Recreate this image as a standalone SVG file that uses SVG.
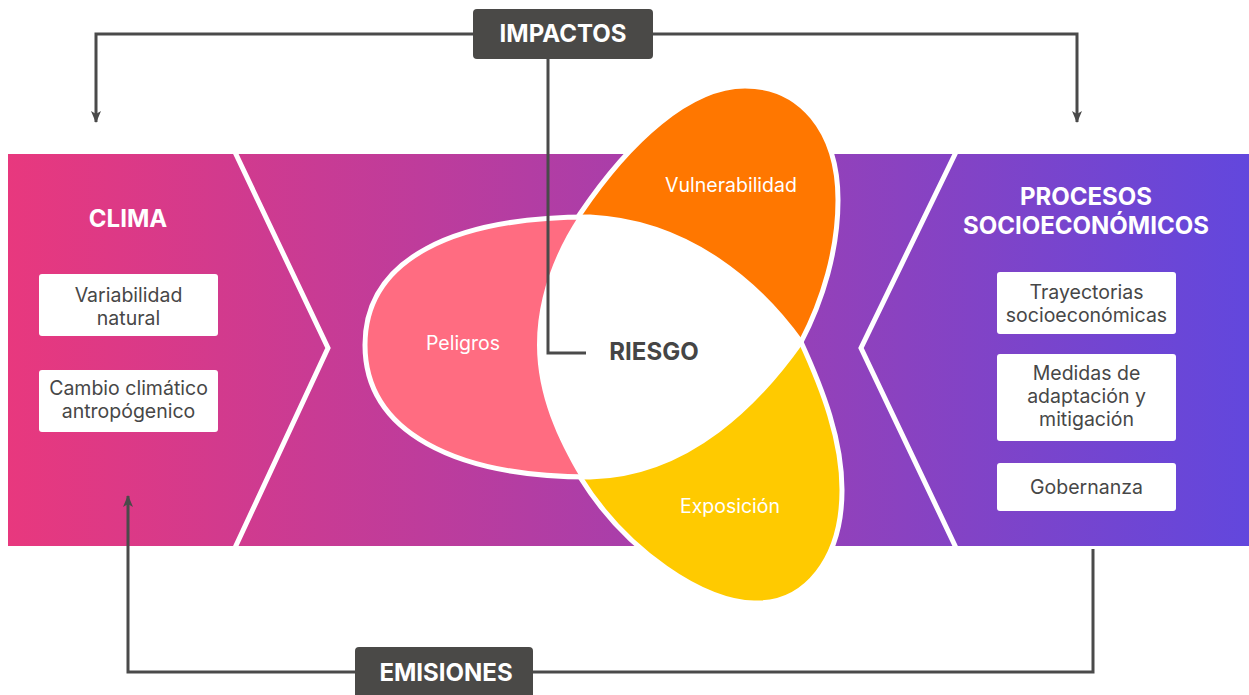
<svg xmlns="http://www.w3.org/2000/svg" width="1249" height="695" viewBox="0 0 1249 695">
<defs>
<linearGradient id="bandGrad" x1="8" y1="0" x2="1249" y2="0" gradientUnits="userSpaceOnUse">
<stop offset="0" stop-color="#E8387E"/>
<stop offset="0.5" stop-color="#A93EAA"/>
<stop offset="1" stop-color="#6247DD"/>
</linearGradient>
<clipPath id="pinkClip">
<path d="M801,342 C760,285 690,222 590,217 C455,217 365,258 365,345 C365,432 455,477 590,477 C690,475 760,400 801,342 Z"/>
</clipPath>
<marker id="arrow" viewBox="0 0 12 12" refX="11" refY="6" markerWidth="12" markerHeight="12" markerUnits="userSpaceOnUse" orient="auto">
<path d="M0,1 L12,6 L0,11 L3,6 Z" fill="#4A4A4A"/>
</marker>
<style>
.petal{stroke:#fff;stroke-width:5;stroke-linejoin:round}
.box{fill:#fff}
.dark{fill:#4A4947}
.t{font-family:Inter,"Noto Sans","Liberation Sans",sans-serif;text-anchor:middle}
.title{font-size:24px;font-weight:700;fill:#fff}
.item{font-size:19.5px;fill:#474747}
.plabel{font-size:19.5px;fill:#fff}
.conn{fill:none;stroke:#4A4A4A;stroke-width:3}
.chev{fill:none;stroke:#fff;stroke-width:5}
</style>
</defs>
<rect width="1249" height="695" fill="#fff"/>
<g id="band">
<rect x="8" y="154" width="1241" height="392" fill="url(#bandGrad)"/>
<polyline class="chev" points="233,148 328,348 233,552"/>
<polyline class="chev" points="958,148 861,348 958,552"/>
</g>
<g id="clima">
<text class="t title" x="128" y="227">CLIMA</text>
</g>
<g id="variabilidad">
<rect class="box" x="39" y="274" width="179" height="62" rx="3"/>
<text class="t item" x="128.5" y="302">Variabilidad</text>
<text class="t item" x="128.5" y="325">natural</text>
</g>
<g id="cambio">
<rect class="box" x="39" y="370" width="179" height="62" rx="3"/>
<text class="t item" x="128.5" y="395">Cambio climático</text>
<text class="t item" x="128.5" y="418">antropógenico</text>
</g>
<g id="procesos">
<text class="t title" x="1086" y="205">PROCESOS</text>
<text class="t title" x="1086" y="234">SOCIOECONÓMICOS</text>
</g>
<g id="trayectorias">
<rect class="box" x="997" y="272" width="179" height="62" rx="3"/>
<text class="t item" x="1086.5" y="299">Trayectorias</text>
<text class="t item" x="1086.5" y="322">socioeconómicas</text>
</g>
<g id="medidas">
<rect class="box" x="997" y="354" width="179" height="87" rx="3"/>
<text class="t item" x="1086.5" y="380">Medidas de</text>
<text class="t item" x="1086.5" y="403">adaptación y</text>
<text class="t item" x="1086.5" y="426">mitigación</text>
</g>
<g id="gobernanza">
<rect class="box" x="997" y="463" width="179" height="48" rx="3"/>
<text class="t item" x="1086.5" y="494">Gobernanza</text>
</g>
<g id="vulnerabilidad">
<path class="petal" fill="#FF7700" d="M801,342 C823,300 838,250 838,200 C838,130 800,86 745,86 C690,86 630,140 580,214 C556,250 537,295 537,345 Z"/>
<text class="t plabel" x="731" y="192">Vulnerabilidad</text>
</g>
<g id="exposicion">
<path class="petal" fill="#FFCA00" d="M801,342 C823,390 842,440 842,490 C842,560 805,603 757,603 C705,605 625,550 580,477 C558,440 537,395 537,345 Z"/>
<text class="t plabel" x="730" y="513">Exposición</text>
</g>
<g id="peligros">
<path class="petal" fill="#FF6C81" d="M801,342 C760,285 690,222 590,217 C455,217 365,258 365,345 C365,432 455,477 590,477 C690,475 760,400 801,342 Z"/>
<text class="t plabel" x="463" y="350">Peligros</text>
</g>
<g id="riesgo">
<path fill="#fff" clip-path="url(#pinkClip)" d="M600,150 L580,214 C556,250 537,295 537,345 C537,395 558,440 580,477 L600,560 L830,560 L830,150 Z"/>
<text class="t" x="654" y="360" style="font-size:24px;font-weight:700;fill:#454545">RIESGO</text>
</g>
<g id="connectors">
<polyline class="conn" points="473,34 96,34 96,122" marker-end="url(#arrow)"/>
<polyline class="conn" points="653,34 1077,34 1077,122" marker-end="url(#arrow)"/>
<polyline class="conn" points="548,59 548,353 586,353"/>
<polyline class="conn" points="355,672 128,672 128,496" marker-end="url(#arrow)"/>
<polyline class="conn" points="533,672 1093,672 1093,549"/>
</g>
<g id="impactos">
<rect class="dark" x="473" y="9" width="180" height="50" rx="4"/>
<text class="t title" x="563" y="42">IMPACTOS</text>
</g>
<g id="emisiones">
<rect class="dark" x="355" y="647" width="178" height="60" rx="4"/>
<text class="t title" x="446" y="681">EMISIONES</text>
</g>
</svg>
